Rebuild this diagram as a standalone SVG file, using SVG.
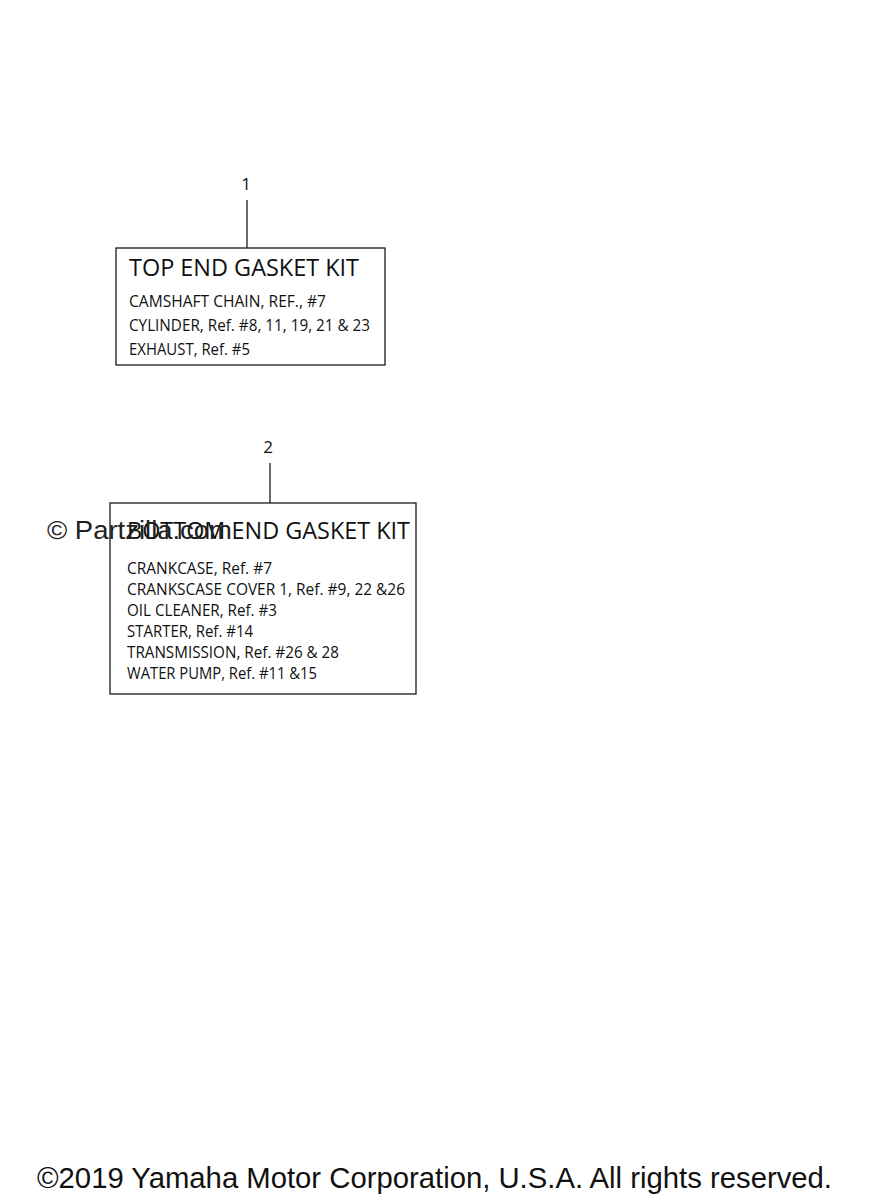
<svg xmlns="http://www.w3.org/2000/svg" width="872" height="1200" viewBox="0 0 872 1200">
<style>
.box{fill:#fff;stroke:#1a1a1a;stroke-width:1.3}
.lead{stroke:#1a1a1a;stroke-width:1.3;fill:none}
.title{font-family:"Open Sans","Noto Sans",sans-serif;font-size:24px;fill:#111}
.body{font-family:"Open Sans","Noto Sans",sans-serif;font-size:15.5px;fill:#111}
.num{font-family:"Open Sans","Noto Sans",sans-serif;font-size:17px;fill:#111;text-anchor:middle}
.wm{font-family:"Liberation Sans",Arial,sans-serif;font-size:25px;fill:#222}
.foot{font-family:"Liberation Sans",Arial,sans-serif;font-size:29px;fill:#111}
</style>
<rect width="872" height="1200" fill="#fff"/>
<g id="connectors">
<line class="lead" x1="247" y1="200" x2="247" y2="248"/>
<line class="lead" x1="270" y1="463" x2="270" y2="503"/>
</g>
<g id="node1">
<text class="num" x="246" y="190">1</text>
<rect class="box" x="116" y="248" width="269" height="117"/>
<text class="title" x="129" y="276" textLength="230" lengthAdjust="spacingAndGlyphs">TOP END GASKET KIT</text>
<text class="body" x="129" y="307" textLength="197" lengthAdjust="spacingAndGlyphs">CAMSHAFT CHAIN, REF., #7</text>
<text class="body" x="129" y="331" textLength="241" lengthAdjust="spacingAndGlyphs">CYLINDER, Ref. #8, 11, 19, 21 &amp; 23</text>
<text class="body" x="129" y="355" textLength="121" lengthAdjust="spacingAndGlyphs">EXHAUST, Ref. #5</text>
</g>
<g id="node2">
<text class="num" x="268" y="453">2</text>
<rect class="box" x="110" y="503" width="306" height="191"/>
<text class="title" x="127" y="539" textLength="283" lengthAdjust="spacingAndGlyphs">BOTTOM END GASKET KIT</text>
<text class="body" x="127" y="574" textLength="145" lengthAdjust="spacingAndGlyphs">CRANKCASE, Ref. #7</text>
<text class="body" x="127" y="595" textLength="278" lengthAdjust="spacingAndGlyphs">CRANKSCASE COVER 1, Ref. #9, 22 &amp;26</text>
<text class="body" x="127" y="616" textLength="150" lengthAdjust="spacingAndGlyphs">OIL CLEANER, Ref. #3</text>
<text class="body" x="127" y="637" textLength="126" lengthAdjust="spacingAndGlyphs">STARTER, Ref. #14</text>
<text class="body" x="127" y="658" textLength="212" lengthAdjust="spacingAndGlyphs">TRANSMISSION, Ref. #26 &amp; 28</text>
<text class="body" x="127" y="679" textLength="190" lengthAdjust="spacingAndGlyphs">WATER PUMP, Ref. #11 &amp;15</text>
</g>
<text class="wm" x="47" y="539" textLength="185" lengthAdjust="spacingAndGlyphs">© Partzilla.com</text>
<text class="foot" x="37" y="1188" textLength="795" lengthAdjust="spacingAndGlyphs">©2019 Yamaha Motor Corporation, U.S.A. All rights reserved.</text>
</svg>
